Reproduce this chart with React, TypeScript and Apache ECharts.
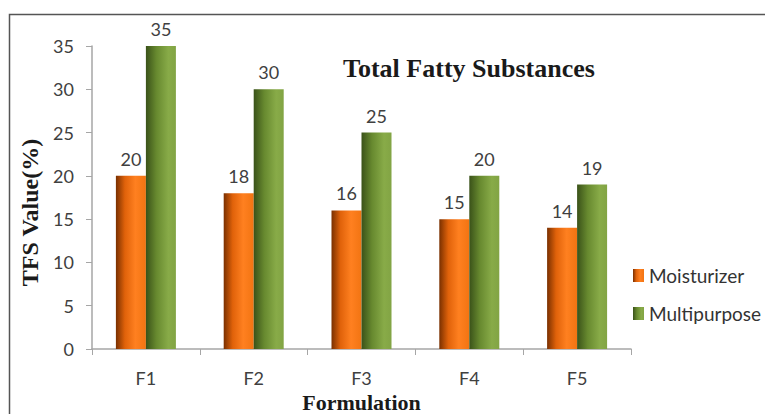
import React, { useEffect, useRef } from "react";
import * as echarts from "echarts";

const categories = ["F1", "F2", "F3", "F4", "F5"];
const moisturizer = [20, 18, 16, 15, 14];
const multipurpose = [35, 30, 25, 20, 19];
const seriesNames = ["Moisturizer", "Multipurpose"];

export default function App() {
  const ref = useRef<HTMLDivElement>(null);
  useEffect(() => {
    const chart = echarts.init(ref.current!, null, { renderer: "svg" });
    const orangeGrad = new echarts.graphic.LinearGradient(0, 0, 1, 0, [
      { offset: 0, color: "#7a3000" },
      { offset: 0.3, color: "#e0620a" },
      { offset: 0.65, color: "#ff8020" },
      { offset: 1, color: "#f27412" },
    ]);
    const greenGrad = new echarts.graphic.LinearGradient(0, 0, 1, 0, [
      { offset: 0, color: "#3a5219" },
      { offset: 0.35, color: "#67892f" },
      { offset: 0.75, color: "#88ab48" },
      { offset: 1, color: "#82a444" },
    ]);
    const labelStyle = {
      show: true,
      position: "top" as const,
      distance: 8,
      fontFamily: "Lato",
      fontSize: 18,
      color: "#404040",
    };
    const serifName = {
      fontFamily: "Liberation Serif",
      fontWeight: "bold" as const,
      color: "#1a1a1a",
    };
    chart.setOption({
      animation: false,
      backgroundColor: "#ffffff",
      title: {
        text: "Total Fatty Substances",
        left: 338,
        top: 50,
        textStyle: { ...serifName, fontSize: 26 },
      },
      legend: {
        orient: "vertical",
        left: 628,
        top: 261,
        itemWidth: 11,
        itemHeight: 13,
        itemGap: 19,
        icon: "rect",
        data: seriesNames,
        textStyle: { fontFamily: "Lato", fontSize: 19, color: "#333333" },
      },
      graphic: [
        {
          type: "rect",
          shape: { x: 9.5, y: 14.5, width: 900, height: 500 },
          style: { fill: "none", stroke: "#555555", lineWidth: 1.5 },
          silent: true,
        },
      ],
      grid: { left: 92, right: 134, top: 46, bottom: 65, outerBoundsMode: "none", containLabel: false },
      xAxis: {
        type: "category",
        data: categories,
        name: "Formulation",
        nameLocation: "middle",
        nameGap: 37,
        nameTextStyle: { ...serifName, fontSize: 22 },
        axisLine: { lineStyle: { color: "#a6a6a6", width: 1.5 } },
        axisTick: { show: true, length: 6, lineStyle: { color: "#a6a6a6" } },
        axisLabel: { fontFamily: "Lato", fontSize: 18, color: "#404040", margin: 20 },
      },
      yAxis: {
        type: "value",
        min: 0,
        max: 35,
        interval: 5,
        name: "TFS Value(%)",
        nameLocation: "middle",
        nameGap: 48,
        nameTextStyle: { ...serifName, fontSize: 24, padding: [0, 30, 0, 0] },
        axisLine: { show: true, lineStyle: { color: "#a6a6a6", width: 1.5 } },
        axisTick: { show: true, length: 6, lineStyle: { color: "#a6a6a6" } },
        splitLine: { show: false },
        axisLabel: { fontFamily: "Lato", fontSize: 18, color: "#404040", margin: 18 },
      },
      series: [
        {
          name: seriesNames[0],
          type: "bar",
          data: moisturizer,
          barWidth: 30,
          barGap: "0%",
          itemStyle: { color: orangeGrad },
          label: labelStyle,
        },
        {
          name: seriesNames[1],
          type: "bar",
          data: multipurpose,
          barWidth: 30,
          barGap: "0%",
          itemStyle: { color: greenGrad },
          label: labelStyle,
        },
      ],
    });
    return () => chart.dispose();
  }, []);
  return (
    <div
      ref={ref}
      style={{ position: "absolute", left: 0, top: 0, width: 765, height: 414 }}
    />
  );
}
